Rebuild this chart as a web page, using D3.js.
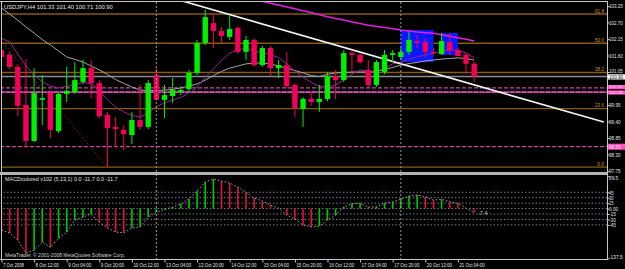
<!DOCTYPE html>
<html><head><meta charset="utf-8">
<script src="https://cdn.jsdelivr.net/npm/d3@7"></script>
<style>
html,body{margin:0;padding:0;background:#000;}
svg{display:block;}
text{font-family:"Liberation Sans","DejaVu Sans",sans-serif;}
</style></head><body>
<svg id="chart" width="625" height="269"></svg>
<script>
// ---- DATA (USDJPY H4, 7 Oct 2008 20:00 .. 21 Oct 2008 04:00) ----
const openP  = [101.78,101.62,101.22,99.95,98.75,100.12,100.35,99.08,100.32,100.38,100.72,101.18,100.68,99.62,99.22,99.12,98.95,99.45,99.22,100.95,100.12,100.25,100.38,100.48,101.02,102.02,102.68,102.42,102.22,102.52,101.72,102.12,101.28,101.85,101.18,101.28,100.62,99.82,100.15,100.05,100.15,100.92,100.78,101.68,101.62,101.12,100.62,101.05,101.62,101.55,101.72,102.08,102.05,101.72,101.65,102.05,101.78,101.62,101.33];
const highP  = [101.88,101.72,101.32,101.48,101.18,100.95,100.45,100.38,101.22,101.38,101.45,101.45,100.78,99.72,99.55,99.28,99.72,100.62,100.78,101.18,100.62,100.85,100.58,101.12,102.12,103.12,103.02,102.55,102.95,102.58,102.25,102.18,101.92,101.92,101.45,101.72,100.68,100.22,100.38,100.62,101.05,101.12,101.78,101.78,101.68,101.45,101.45,101.78,101.78,101.85,102.38,102.28,102.18,101.85,102.35,102.35,101.85,101.68,101.40];
const lowP   = [101.52,101.15,99.58,98.55,98.72,99.28,98.85,99.02,100.05,100.32,100.65,100.18,99.52,97.88,98.55,98.45,98.65,99.12,99.15,100.12,99.52,100.02,100.28,100.38,100.95,101.95,101.85,102.02,102.12,101.65,101.45,101.22,101.22,100.92,100.85,100.52,99.55,99.22,99.92,99.72,100.08,100.15,100.72,101.05,101.32,100.52,100.55,100.98,101.38,101.45,101.62,101.85,101.55,101.62,101.62,101.62,101.58,100.98,100.71];
const closeP = [101.55,101.22,99.92,98.75,100.35,100.18,99.12,100.32,100.42,100.78,101.18,100.68,99.58,99.18,99.15,98.98,99.45,99.22,100.68,100.12,100.28,100.45,100.45,101.02,102.02,102.88,102.42,102.25,102.48,101.72,102.12,101.28,101.85,101.18,101.28,100.58,99.85,100.15,100.05,100.15,100.92,100.78,101.68,101.62,101.38,100.62,101.38,101.62,101.68,101.72,102.12,102.02,101.72,101.68,102.08,101.75,101.58,101.32,100.90];
const maGray    = [103.18,102.98,102.78,102.55,102.35,102.13,101.95,101.75,101.55,101.47,101.38,101.25,101.12,100.97,100.80,100.67,100.55,100.45,100.43,100.43,100.45,100.47,100.52,100.58,100.65,100.78,100.93,101.07,101.18,101.25,101.32,101.35,101.35,101.32,101.25,101.18,101.10,101.02,100.93,100.90,100.97,101.02,101.03,101.05,101.05,101.05,101.08,101.13,101.20,101.28,101.33,101.37,101.42,101.45,101.48,101.50,101.52,101.50,101.45];
const maPurple  = [102.17,102.05,101.65,101.25,100.95,100.73,100.58,100.52,100.57,100.62,100.70,100.67,100.42,100.12,99.88,99.72,99.60,99.55,99.68,99.90,100.02,100.12,100.20,100.35,100.55,100.87,101.15,101.43,101.68,101.78,101.85,101.75,101.70,101.63,101.53,101.32,101.08,100.88,100.70,100.58,100.55,100.62,100.78,100.98,101.12,101.07,101.08,101.18,101.32,101.38,101.48,101.55,101.62,101.68,101.73,101.78,101.78,101.68,101.52];
const maMagenta = [null,null,null,null,null,null,null,null,null,null,null,null,null,null,null,null,null,null,null,null,null,null,null,null,null,null,null,null,null,null,null,103.47,103.41,103.34,103.28,103.22,103.16,103.09,103.03,102.96,102.89,102.83,102.78,102.72,102.67,102.61,102.57,102.53,102.49,102.45,102.42,102.38,102.36,102.34,102.29,102.24,102.19,102.14,102.08];
const macd = [-59.6,-67.9,-87.3,-123.3,-115,-92.8,-106.6,-81.7,-65.1,-31.9,-23.5,-15.2,-37.4,-54,-65.1,-66.5,-54,-51.2,-23.5,-9.7,-2.8,4.2,12.5,26.3,48.5,73.4,81.7,76,70.6,59.6,45.7,29.1,20.8,9.7,1,-18,-29,-45.7,-51,-48.5,-31.9,-18,4.2,13,15,4,4.5,15,18,26,34.6,37.4,32.7,23.5,25.5,18.8,14.4,1.5,-11.7];
const timeTickIndex = [1,5,9,13,17,21,25,29,33,37,41,45,49,53,57];
const timeTickLabels = ["7 Oct 2008","8 Oct 12:00","9 Oct 04:00","9 Oct 20:00","10 Oct 12:00","13 Oct 04:00","13 Oct 20:00","14 Oct 12:00","15 Oct 04:00","15 Oct 20:00","16 Oct 12:00","17 Oct 04:00","17 Oct 20:00","20 Oct 12:00","21 Oct 04:00"];
const priceTicks = [103.25,102.70,102.15,101.60,101.05,99.95,99.40,98.85,98.30,97.75];
const macdTicks = [89.5,45,30,15,0,-15,-30,-45,-137.5];
const macdLevels = [45,30,15,0,-15,-30,-45];
const fibLevels = [0,23.6,38.2,50,61.8];
const fibAnchorIdx = [-11.5,14], fibAnchorPrice = [106.14,97.88];
const trendIdx = [23.15,74.9], trendPrice = [103.42,99.38];
const boxIdx = [[50,54],[55,57]], boxPrice = [[102.45,101.38],[102.35,101.62]];
const pinkLines = [100.52,100.38,98.56];
const separatorIdx = [20,50];
const bid = 100.90;
const title = "USDJPY,H4  101.33 101.40 100.71 100.90";
const macdTitle = "MACDcolored v102 (5,13,1) 0.0 -11.7 0.0 -11.7";
const footer = "MetaTrader, \u00a9 2001-2008 MetaQuotes Software Corp.";

// ---- SCALES ----
const n = closeP.length;
const idx = d3.range(1, n + 1);
const x = d3.scaleLinear().domain([1, 59]).range([1.5, 474.2]);
const y = d3.scaleLinear().domain([97.75, 103.25]).range([171, 6]);
const ym = d3.scaleLinear().domain([-137.5, 89.5]).range([258.3, 176.2]);
const RIGHT = 607;

const svg = d3.select('#chart');
svg.append('rect').attr('width',625).attr('height',269).attr('fill','#000');
const defs = svg.append('defs');
defs.append('clipPath').attr('id','cm').append('rect').attr('x',2).attr('y',2).attr('width',RIGHT-2).attr('height',170);
defs.append('clipPath').attr('id','ci').append('rect').attr('x',2).attr('y',175).attr('width',RIGHT-2).attr('height',84);

const main = svg.append('g').attr('clip-path','url(#cm)');
const ind = svg.append('g').attr('clip-path','url(#ci)');

// squeeze text to the narrow bitmap-font width of the original
function fit(sel, cw) {
  sel.each(function(){
    const t = this.textContent;
    d3.select(this).attr('textLength', (t.length * cw).toFixed(1)).attr('lengthAdjust','spacingAndGlyphs');
  });
  return sel;
}

// fib levels
const fibRange = fibAnchorPrice[0] - fibAnchorPrice[1];
fibLevels.forEach(l => {
  const p = fibAnchorPrice[1] + l / 100 * fibRange;
  main.append('line').attr('x1',0).attr('x2',RIGHT).attr('y1',y(p)).attr('y2',y(p))
    .attr('stroke','#8a5a10').attr('stroke-width',1.4);
  fit(main.append('text').attr('x',604).attr('y',y(p)-1.2).attr('text-anchor','end')
    .attr('font-size',6).attr('fill','#c8922a').text(l.toFixed(1)), 2.25);
});

// bid line
main.append('line').attr('x1',0).attr('x2',RIGHT).attr('y1',y(bid)).attr('y2',y(bid))
  .attr('stroke','#8c8c8c').attr('stroke-width',1.6);

// pink horizontal lines
pinkLines.forEach((p,i) => {
  if (i === 1) {
    main.append('line').attr('x1',0).attr('x2',RIGHT).attr('y1',y(p)).attr('y2',y(p))
      .attr('stroke','#a8389a').attr('stroke-width',1.8);
  }
  main.append('line').attr('x1',0).attr('x2',RIGHT).attr('y1',y(p)).attr('y2',y(p))
    .attr('stroke','#ff58c8').attr('stroke-width',1).attr('stroke-dasharray','4,2');
});

// period separators
separatorIdx.forEach(i => {
  svg.append('line').attr('x1',x(i)).attr('x2',x(i)).attr('y1',2).attr('y2',259)
    .attr('stroke','#9a9a9a').attr('stroke-width',1).attr('stroke-dasharray','2,2');
});

// blue rectangles
boxIdx.forEach((b,k) => {
  main.append('rect').attr('x',x(b[0])).attr('width',x(b[1])-x(b[0]))
    .attr('y',y(boxPrice[k][0])).attr('height',y(boxPrice[k][1])-y(boxPrice[k][0]))
    .attr('fill','#0a18ff');
});

// moving averages
const lineGen = d3.line().defined(d => d[1] != null).x(d => x(d[0])).y(d => y(d[1]));
[[maGray,'#a6a6a6',1],[maPurple,'#96209c',1],[maMagenta,'#e41ee4',1.5]].forEach(([arr,c,w]) => {
  main.append('path').datum(idx.map((d,i)=>[d,arr[i]])).attr('d',lineGen)
    .attr('fill','none').attr('stroke',c).attr('stroke-width',w);
});

// fib diagonal (dotted)
main.append('line').attr('x1',x(fibAnchorIdx[0])).attr('y1',y(fibAnchorPrice[0]))
  .attr('x2',x(fibAnchorIdx[1])).attr('y2',y(fibAnchorPrice[1]))
  .attr('stroke','#a01c1c').attr('stroke-width',1).attr('stroke-dasharray','1.5,2.5');

// white trend line
main.append('line').attr('x1',x(trendIdx[0])).attr('y1',y(trendPrice[0]))
  .attr('x2',x(trendIdx[1])).attr('y2',y(trendPrice[1]))
  .attr('stroke','#f4f4f4').attr('stroke-width',1.6);

// candles
const up = '#00f000', dn = '#f4005a';
const cg = main.append('g');
idx.forEach((d,i) => {
  const c = closeP[i] >= openP[i] ? up : dn;
  cg.append('line').attr('x1',x(d)).attr('x2',x(d)).attr('y1',y(highP[i])).attr('y2',y(lowP[i]))
    .attr('stroke',c).attr('stroke-width',1);
  const top = y(Math.max(openP[i],closeP[i])), bot = y(Math.min(openP[i],closeP[i]));
  cg.append('rect').attr('x',x(d)-2.7).attr('width',5.4).attr('y',top).attr('height',Math.max(1,bot-top))
    .attr('fill',c);
});

// title
fit(svg.append('text').attr('x',4).attr('y',8.5).attr('font-size',6).attr('fill','#e6e6e6').text(title), 2.86);

// ---- MACD pane ----
macdLevels.forEach(v => {
  ind.append('line').attr('x1',0).attr('x2',RIGHT).attr('y1',ym(v)).attr('y2',ym(v))
    .attr('stroke','#7a7a8a').attr('stroke-width',1).attr('stroke-dasharray','1.5,2');
});
idx.forEach((d,i) => {
  const c = (i === 0 || macd[i] < macd[i-1]) ? '#e0103c' : '#00c800';
  ind.append('line').attr('x1',x(d)).attr('x2',x(d)).attr('y1',ym(0)).attr('y2',ym(macd[i]))
    .attr('stroke',c).attr('stroke-width',1.6);
});
ind.append('path').datum(idx.map((d,i)=>[d,macd[i]]))
  .attr('d', d3.line().x(d=>x(d[0])).y(d=>ym(d[1])))
  .attr('fill','none').attr('stroke','#a0a0a0').attr('stroke-width',1).attr('stroke-dasharray','1.5,2');
fit(svg.append('text').attr('x',5).attr('y',181).attr('font-size',6).attr('fill','#e0e0e0').text(macdTitle), 2.5);
fit(svg.append('text').attr('x',5).attr('y',257).attr('font-size',6).attr('fill','#d0d0d0').text(footer), 2.45);
fit(svg.append('text').attr('x',478).attr('y',215).attr('font-size',6).attr('fill','#c8c8c8').text('-7.4'), 2.4);

// ---- frames ----
svg.append('line').attr('x1',0).attr('x2',RIGHT).attr('y1',1.5).attr('y2',1.5).attr('stroke','#c8c8c8');
svg.append('line').attr('x1',1.5).attr('x2',1.5).attr('y1',1).attr('y2',260).attr('stroke','#c8c8c8');
svg.append('rect').attr('x',0).attr('y',172).attr('width',RIGHT).attr('height',3).attr('fill','#b4b4b4');
svg.append('line').attr('x1',0).attr('x2',RIGHT+0.5).attr('y1',259.5).attr('y2',259.5).attr('stroke','#c8c8c8');
svg.append('line').attr('x1',RIGHT+0.5).attr('x2',RIGHT+0.5).attr('y1',1).attr('y2',260).attr('stroke','#c8c8c8');

// ---- axes ----
const pAxis = svg.append('g').attr('transform',`translate(${RIGHT+0.5},0)`)
  .call(d3.axisRight(y).tickValues(priceTicks).tickFormat(d3.format('.2f')).tickSize(2));
const mAxis = svg.append('g').attr('transform',`translate(${RIGHT+0.5},0)`)
  .call(d3.axisRight(ym).tickValues(macdTicks).tickFormat(d => d === 0 ? '0.00' : String(d)).tickSize(2));
const xAxis = svg.append('g').attr('transform','translate(0,259.5)')
  .call(d3.axisBottom(x).tickValues(timeTickIndex).tickFormat((d,i)=>timeTickLabels[i]).tickSize(3));
[pAxis,mAxis,xAxis].forEach(g => {
  g.select('.domain').remove();
  g.selectAll('line').attr('stroke','#c8c8c8');
  g.selectAll('text').attr('fill','#e0e0e0').attr('font-size',6)
    .attr('font-family','"Liberation Sans","DejaVu Sans",sans-serif');
});
fit(pAxis.selectAll('text').attr('x',1.5).attr('font-size',5.2).attr('dy', d => d === 101.05 ? '0.15em' : '0.35em'), 2.3);
fit(mAxis.selectAll('text').attr('x',1.5).attr('font-size',5.2).attr('dy', d => d === 89.5 ? '0.65em' : d === -137.5 ? '0.1em' : '0.35em'), 2.3);
fit(xAxis.selectAll('text').attr('text-anchor','start').attr('x',1).attr('y',3.5), 2.1);

// price boxes
function priceBox(p, fill, txt, label, off, h) {
  const cy = y(p) + off;
  svg.append('rect').attr('x',RIGHT+1).attr('y',cy-h/2).attr('width',17).attr('height',h).attr('fill',fill);
  fit(svg.append('text').attr('x',RIGHT+2).attr('y',cy+h*0.33).attr('font-size',Math.min(5.2,h*0.95)).attr('fill',txt).text(label), 2.35);
}
priceBox(bid,'#ffffff','#000000',bid.toFixed(2),0.4,5.2);
priceBox(pinkLines[0],'#ff50c0','#ffe0f4',pinkLines[0].toFixed(2),-0.8,4.2);
priceBox(pinkLines[1],'#ff50c0','#ffe0f4',pinkLines[1].toFixed(2),0.4,4.2);
priceBox(pinkLines[2],'#ff50c0','#ffe0f4',pinkLines[2].toFixed(2),0,6);
</script>
</body></html>
